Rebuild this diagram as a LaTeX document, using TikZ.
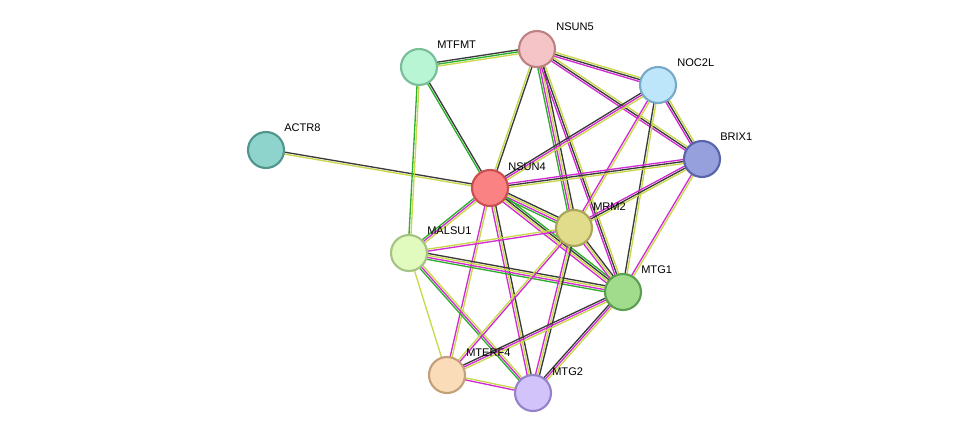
\documentclass[tikz,border=0pt]{standalone}
\usepackage{fontspec}
\setmainfont{Liberation Sans}
\usetikzlibrary{calc}
\definecolor{ty}{HTML}{C8D84A}
\definecolor{tm}{HTML}{D22AD2}
\definecolor{tk}{HTML}{3A3A3A}
\definecolor{tg}{HTML}{2CB02C}
\tikzset{
 prot/.style={circle,minimum size=27pt,inner sep=0pt,line width=1.6pt},
 lab/.style={anchor=west,font=\fontsize{8.3}{9}\selectfont,inner sep=0pt},
 ln/.style={line width=1pt}
}
\newcommand{\edge}[4]{%
 \foreach \cc [count=\k] in {#4}{%
  \pgfmathsetmacro{\off}{(\k-(#3+1)/2)*1.5}%
  \draw[ln,\cc] ($(#1)!\off pt!90:(#2)$) -- ($(#2)!\off pt!-90:(#1)$);
 }}
\begin{document}
\begin{tikzpicture}[x=0.75pt,y=-0.75pt]
\useasboundingbox (0,0) rectangle (976,439);
\coordinate (ACTR8) at (266,150);
\coordinate (MTFMT) at (419,67);
\coordinate (NSUN5) at (537,49);
\coordinate (NOC2L) at (658,85);
\coordinate (BRIX1) at (702,159);
\coordinate (NSUN4) at (490,188);
\coordinate (MRM2) at (574,228);
\coordinate (MALSU1) at (409,253);
\coordinate (MTG1) at (623,292);
\coordinate (MTERF4) at (447,375);
\coordinate (MTG2) at (533,393);
\edge{ACTR8}{NSUN4}{2}{ty,tk}
\edge{MTFMT}{NSUN5}{3}{ty,tg,tk}
\edge{MTFMT}{NSUN4}{2}{tg,tk}
\edge{MTFMT}{MALSU1}{2}{tg,ty}
\edge{NSUN5}{NSUN4}{2}{ty,tk}
\edge{NSUN5}{NOC2L}{3}{tm,tk,ty}
\edge{NSUN5}{BRIX1}{3}{tm,tk,ty}
\edge{NSUN5}{MRM2}{4}{tg,tm,ty,tk}
\edge{NSUN5}{MTG1}{3}{tm,tk,ty}
\edge{NOC2L}{BRIX1}{3}{tm,tk,ty}
\edge{NOC2L}{NSUN4}{3}{tk,tm,ty}
\edge{NOC2L}{MRM2}{2}{tm,ty}
\edge{NOC2L}{MTG1}{2}{tk,ty}
\edge{BRIX1}{NSUN4}{3}{tm,tk,ty}
\edge{BRIX1}{MRM2}{3}{tm,tk,ty}
\edge{BRIX1}{MTG1}{2}{tm,ty}
\edge{NSUN4}{MRM2}{4}{tg,tm,ty,tk}
\edge{NSUN4}{MALSU1}{3}{tg,tm,ty}
\edge{NSUN4}{MTG1}{4}{tm,ty,tk,tg}
\edge{NSUN4}{MTERF4}{2}{tm,ty}
\edge{NSUN4}{MTG2}{3}{tm,ty,tk}
\edge{MALSU1}{MRM2}{2}{tm,ty}
\edge{MALSU1}{MTG1}{4}{tg,tm,ty,tk}
\edge{MALSU1}{MTERF4}{1}{ty}
\edge{MALSU1}{MTG2}{3}{tg,tm,ty}
\edge{MRM2}{MTG1}{3}{tm,ty,tk}
\edge{MRM2}{MTG2}{3}{tm,ty,tk}
\edge{MRM2}{MTERF4}{2}{ty,tm}
\edge{MTG1}{MTERF4}{3}{tk,tm,ty}
\edge{MTG1}{MTG2}{3}{tk,tm,ty}
\edge{MTERF4}{MTG2}{2}{tm,ty}
\node[prot,fill={rgb,255:red,142;green,212;blue,204},draw={rgb,255:red,80;green,150;blue,140}] (nACTR8) at (ACTR8) {};
\node[prot,fill={rgb,255:red,184;green,245;blue,212},draw={rgb,255:red,120;green,190;blue,150}] (nMTFMT) at (MTFMT) {};
\node[prot,fill={rgb,255:red,245;green,196;blue,198},draw={rgb,255:red,190;green,130;blue,130}] (nNSUN5) at (NSUN5) {};
\node[prot,fill={rgb,255:red,190;green,230;blue,250},draw={rgb,255:red,120;green,170;blue,200}] (nNOC2L) at (NOC2L) {};
\node[prot,fill={rgb,255:red,150;green,160;blue,220},draw={rgb,255:red,90;green,100;blue,170}] (nBRIX1) at (BRIX1) {};
\node[prot,fill={rgb,255:red,250;green,130;blue,130},draw={rgb,255:red,200;green,80;blue,80}] (nNSUN4) at (NSUN4) {};
\node[prot,fill={rgb,255:red,225;green,220;blue,140},draw={rgb,255:red,170;green,165;blue,90}] (nMRM2) at (MRM2) {};
\node[prot,fill={rgb,255:red,225;green,250;blue,190},draw={rgb,255:red,165;green,195;blue,130}] (nMALSU1) at (MALSU1) {};
\node[prot,fill={rgb,255:red,160;green,220;blue,140},draw={rgb,255:red,90;green,160;blue,80}] (nMTG1) at (MTG1) {};
\node[prot,fill={rgb,255:red,250;green,220;blue,185},draw={rgb,255:red,195;green,160;blue,120}] (nMTERF4) at (MTERF4) {};
\node[prot,fill={rgb,255:red,210;green,195;blue,250},draw={rgb,255:red,150;green,130;blue,200}] (nMTG2) at (MTG2) {};
\node[lab] at ($(ACTR8)+(18,-22)$) {ACTR8};
\node[lab] at ($(MTFMT)+(18,-22)$) {MTFMT};
\node[lab] at ($(NSUN5)+(19,-22)$) {NSUN5};
\node[lab] at ($(NOC2L)+(19,-22)$) {NOC2L};
\node[lab] at ($(BRIX1)+(18,-22)$) {BRIX1};
\node[lab] at ($(NSUN4)+(18,-21)$) {NSUN4};
\node[lab] at ($(MRM2)+(19,-21)$) {MRM2};
\node[lab] at ($(MALSU1)+(18,-22)$) {MALSU1};
\node[lab] at ($(MTG1)+(18,-22)$) {MTG1};
\node[lab] at ($(MTERF4)+(19,-22)$) {MTERF4};
\node[lab] at ($(MTG2)+(19,-21)$) {MTG2};
\end{tikzpicture}
\end{document}
